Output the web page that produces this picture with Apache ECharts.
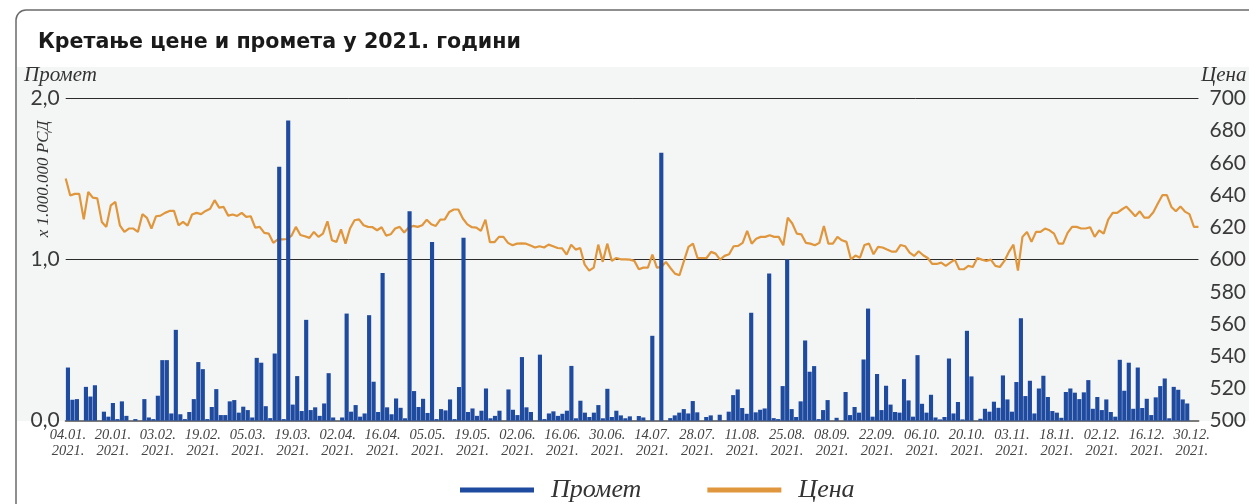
<!DOCTYPE html>
<html>
<head>
<meta charset="utf-8">
<script src="https://cdn.jsdelivr.net/npm/echarts@6/dist/echarts.min.js"></script>
<style>
    html, body { margin: 0; padding: 0; background: #fff; }
    #chart { width: 1249px; height: 504px; }
</style>
</head>
<body>
<div id="chart"></div>
<script>
    // labels under every 10th trading day
    var tickLabels = ['04.01.', '20.01.', '03.02.', '19.02.', '05.03.', '19.03.', '02.04.', '16.04.', '05.05.', '19.05.',
        '02.06.', '16.06.', '30.06.', '14.07.', '28.07.', '11.08.', '25.08.', '08.09.', '22.09.', '06.10.',
        '20.10.', '03.11.', '18.11.', '02.12.', '16.12.', '30.12.'];

    // Промет, x 1.000.000 РСД
    var turnover = [
        0.33, 0.13, 0.134, 0, 0.21, 0.15, 0.22, 0, 0.056, 0.025,
        0.11, 0.01, 0.12, 0.03, 0, 0.01, 0, 0.134, 0.02, 0.01,
        0.155, 0.376, 0.376, 0.045, 0.564, 0.04, 0.01, 0.054, 0.134, 0.364,
        0.32, 0.01, 0.085, 0.196, 0.035, 0.035, 0.12, 0.128, 0.05, 0.087,
        0.066, 0.02, 0.39, 0.36, 0.09, 0.016, 0.417, 1.576, 0.01, 1.864,
        0.10, 0.277, 0.06, 0.626, 0.066, 0.083, 0.03, 0.107, 0.295, 0.02,
        0, 0.02, 0.665, 0.056, 0.097, 0.025, 0.045, 0.655, 0.242, 0.054,
        0.917, 0.083, 0.04, 0.138, 0.08, 0.015, 1.30, 0.184, 0.085, 0.136,
        0.048, 1.11, 0.01, 0.072, 0.064, 0.132, 0.01, 0.209, 1.136, 0.054,
        0.076, 0.03, 0.062, 0.2, 0.015, 0.03, 0.062, 0, 0.194, 0.068,
        0.035, 0.395, 0.083, 0.054, 0, 0.41, 0.01, 0.045, 0.058, 0.03,
        0.043, 0.062, 0.34, 0.015, 0.124, 0.05, 0.023, 0.05, 0.097, 0.015,
        0.198, 0.023, 0.062, 0.033, 0.015, 0.027, 0, 0.029, 0.02, 0,
        0.527, 0, 1.663, 0, 0.016, 0.033, 0.05, 0.072, 0.045, 0.122,
        0.052, 0, 0.023, 0.033, 0, 0.037, 0, 0.056, 0.159, 0.194,
        0.079, 0.043, 0.67, 0.052, 0.068, 0.076, 0.913, 0.016, 0.01, 0.215,
        1.0, 0.072, 0.023, 0.12, 0.498, 0.304, 0.339, 0.01, 0.066, 0.128,
        0, 0.018, 0, 0.178, 0.035, 0.085, 0.05, 0.38, 0.696, 0.025,
        0.29, 0.066, 0.217, 0.10, 0.054, 0.05, 0.258, 0.126, 0.025, 0.407,
        0.105, 0.05, 0.161, 0.02, 0.008, 0.023, 0.386, 0.045, 0.116, 0.008,
        0.558, 0.275, 0, 0.012, 0.074, 0.056, 0.118, 0.08, 0.281, 0.132,
        0.056, 0.24, 0.636, 0.153, 0.248, 0.045, 0.2, 0.279, 0.147, 0.06,
        0.05, 0.018, 0.178, 0.2, 0.174, 0.134, 0.176, 0.252, 0.074, 0.147,
        0.066, 0.132, 0.054, 0.025, 0.378, 0.186, 0.36, 0.074, 0.33, 0.079,
        0.136, 0.035, 0.145, 0.215, 0.262, 0.015, 0.21, 0.192, 0.132, 0.107,
        0, 0
    ];

    // Цена, РСД
    var price = [
        650.3, 639.8, 640.8, 640.8, 625.0, 642.0, 638.5, 638.0, 623.4, 620.3,
        633.7, 635.8, 621.3, 617.2, 619.3, 619.3, 617.2, 628.2, 625.9, 619.3,
        626.9, 627.3, 629.0, 630.2, 630.2, 621.3, 623.4, 621.1, 628.0, 629.0,
        628.2, 630.2, 631.5, 636.9, 632.3, 632.7, 627.3, 628.0, 627.1, 629.0,
        626.5, 626.9, 619.9, 620.3, 616.6, 616.1, 610.4, 612.6, 612.6, 612.8,
        614.7, 620.3, 615.3, 614.5, 613.5, 617.2, 614.1, 616.1, 623.8, 612.0,
        611.0, 618.8, 609.9, 619.3, 624.4, 625.0, 621.3, 620.3, 620.1, 618.2,
        620.1, 614.9, 615.7, 619.3, 620.3, 616.8, 619.9, 620.9, 620.3, 621.3,
        624.8, 621.9, 620.9, 624.8, 625.0, 629.6, 631.1, 631.1, 625.5, 621.9,
        620.1, 619.9, 617.8, 624.8, 610.8, 610.8, 614.1, 614.1, 610.4, 608.9,
        609.9, 610.1, 609.9, 608.7, 607.5, 608.3, 607.5, 609.3, 608.3, 607.2,
        607.0, 603.1, 609.3, 606.2, 607.2, 596.9, 593.2, 595.0, 609.3, 598.6,
        609.9, 599.2, 601.0, 600.2, 600.2, 600.0, 599.2, 594.0, 595.0, 595.0,
        603.1, 595.0, 595.4, 598.6, 594.8, 591.3, 590.3, 599.2, 607.9, 609.9,
        601.0, 601.0, 601.0, 604.8, 603.7, 600.0, 602.3, 603.3, 608.3, 608.5,
        610.4, 617.8, 609.9, 613.0, 614.1, 614.1, 615.1, 614.1, 614.1, 608.9,
        626.1, 622.4, 616.1, 615.7, 610.4, 609.9, 608.9, 610.4, 620.9, 609.9,
        609.9, 614.1, 612.0, 611.0, 600.2, 602.5, 601.2, 609.1, 609.9, 603.3,
        607.9, 607.5, 606.2, 605.0, 605.0, 609.1, 608.3, 604.3, 602.3, 605.2,
        602.7, 601.0, 597.3, 597.3, 598.1, 596.1, 598.1, 600.0, 594.0, 594.0,
        596.1, 595.4, 601.0, 600.0, 599.2, 600.0, 596.1, 595.4, 599.2, 604.8,
        609.3, 593.2, 614.1, 617.2, 611.0, 617.2, 617.2, 619.3, 618.2, 616.1,
        609.9, 609.9, 616.6, 620.3, 620.3, 619.3, 619.3, 620.1, 614.1, 618.2,
        616.1, 624.8, 629.0, 629.0, 631.1, 632.9, 630.0, 626.9, 630.0, 626.1,
        626.1, 629.4, 634.8, 640.0, 640.0, 632.7, 630.0, 632.9, 629.8, 628.2,
        620.3, 620.3
    ];

    var days = turnover.map(function(v, i) {
        return i;
    });

    var serifFont = '"Liberation Serif", serif';
    var sansFont = 'Lato, "Noto Sans", sans-serif';

    var myChart = echarts.init(document.getElementById('chart'), null, { renderer: 'canvas' });

    var option = {
        animation: false,
        backgroundColor: '#ffffff',
        graphic: [
            // okvir
            {
                type: 'rect',
                z: -20,
                shape: { x: 16, y: 10, width: 1300, height: 600, r: 10 },
                style: { fill: '#ffffff', stroke: '#6b6b6b', lineWidth: 1.5 }
            },
            // siva pozadina
            {
                type: 'rect',
                z: -10,
                shape: { x: 17, y: 67, width: 1240, height: 354 },
                style: { fill: '#f4f6f5' }
            },
            {
                type: 'text',
                left: 38,
                top: 32,
                style: {
                    text: 'Кретање цене и промета у 2021. години',
                    font: 'bold 20.6px "DejaVu Sans", sans-serif',
                    fill: '#1a1a1a'
                }
            },
            {
                type: 'text',
                left: 24,
                top: 65,
                style: { text: 'Промет', font: 'italic 21px ' + serifFont, fill: '#333' }
            },
            {
                type: 'text',
                left: 1201,
                top: 65,
                style: { text: 'Цена', font: 'italic 21px ' + serifFont, fill: '#333' }
            },
            {
                type: 'text',
                x: 44,
                y: 179,
                rotation: Math.PI / 2,
                style: {
                    text: 'x 1.000.000 РСД',
                    font: 'italic 17px ' + serifFont,
                    fill: '#333',
                    align: 'center',
                    verticalAlign: 'middle'
                }
            }
        ],
        legend: {
            left: 455,
            top: 472,
            itemWidth: 74,
            itemHeight: 5,
            itemGap: 66,
            textStyle: {
                fontFamily: serifFont,
                fontStyle: 'italic',
                fontSize: 26,
                color: '#333',
                padding: [0, 0, 0, 12]
            },
            data: [{ name: 'Промет', icon: 'rect' }, { name: 'Цена', icon: 'rect' }]
        },
        grid: {
            left: 65.7,
            right: 49,
            top: 98.5,
            bottom: 83.3,
            containLabel: false
        },
        xAxis: [{
            type: 'category',
            data: days,
            boundaryGap: true,
            axisLine: { lineStyle: { color: '#7a7a7a', width: 2 } },
            axisTick: { interval: 9, length: 4, lineStyle: { color: '#7a7a7a', width: 1.5 } },
            axisLabel: {
                interval: 9,
                margin: 6,
                fontFamily: serifFont,
                fontStyle: 'italic',
                fontSize: 14.5,
                lineHeight: 16,
                color: '#444',
                formatter: function(value, index) {
                    return tickLabels[Math.round(index / 10)] + '\n2021.';
                }
            }
        }, {
            type: 'category',
            data: days,
            boundaryGap: false,
            show: false
        }],
        yAxis: [{
            type: 'value',
            min: 0,
            max: 2,
            interval: 1,
            axisLine: { show: false },
            axisTick: { show: false },
            splitLine: { lineStyle: { color: '#2b2b2b', width: 1 } },
            axisLabel: {
                margin: 6,
                fontFamily: sansFont,
                fontSize: 21,
                color: '#3a3a3a',
                formatter: function(v) {
                    return v.toFixed(1).replace('.', ',');
                }
            }
        }, {
            type: 'value',
            position: 'right',
            min: 500,
            max: 700,
            interval: 20,
            axisLine: { show: false },
            axisTick: { show: false },
            splitLine: { show: false },
            axisLabel: {
                margin: 11,
                fontFamily: sansFont,
                fontSize: 21,
                color: '#3a3a3a'
            }
        }],
        series: [{
            name: 'Промет',
            type: 'bar',
            xAxisIndex: 0,
            yAxisIndex: 0,
            z: 3,
            barCategoryGap: '8%',
            itemStyle: { color: '#1e4aa0' },
            data: turnover
        }, {
            name: 'Цена',
            type: 'line',
            xAxisIndex: 1,
            yAxisIndex: 1,
            z: 2,
            symbol: 'none',
            lineStyle: { color: '#e0963c', width: 2.2 },
            itemStyle: { color: '#e0963c' },
            data: price
        }]
    };

    myChart.setOption(option);
</script>
</body>
</html>
